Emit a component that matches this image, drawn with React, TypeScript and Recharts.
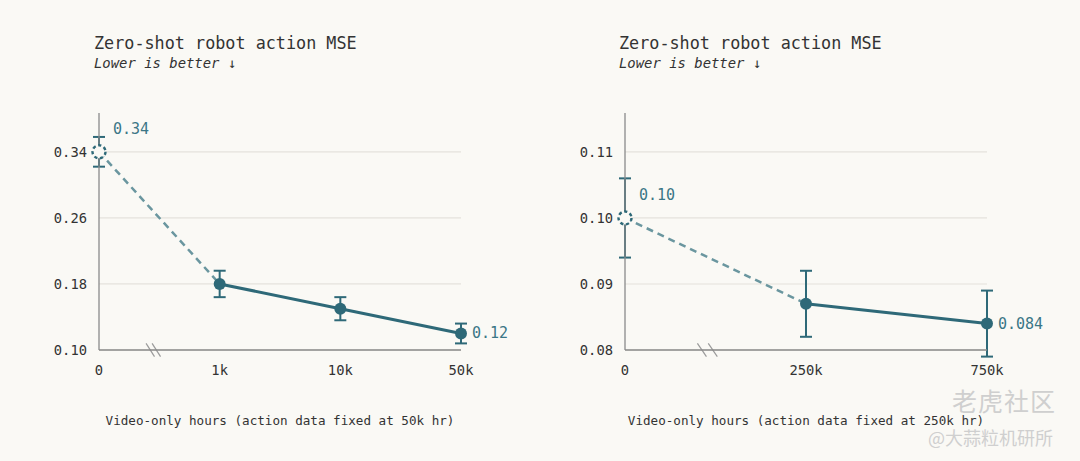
import React from 'react';
import {
  LineChart,
  Line,
  XAxis,
  YAxis,
  CartesianGrid,
  ErrorBar,
  LabelList,
  ReferenceLine,
} from 'recharts';

const LEFT_X_LABELS = ['0', '1k', '10k', '50k'];
const LEFT_MSE = [0.34, 0.18, 0.15, 0.12];
const LEFT_ERR = [0.018, 0.016, 0.014, 0.012];
const LEFT_VALUE_LABELS = ['0.34', '', '', '0.12'];
const LEFT_Y_TICKS = [0.1, 0.18, 0.26, 0.34];

const RIGHT_X_LABELS = ['0', '250k', '750k'];
const RIGHT_MSE = [0.1, 0.087, 0.084];
const RIGHT_ERR = [0.006, 0.005, 0.005];
const RIGHT_VALUE_LABELS = ['0.10', '', '0.084'];
const RIGHT_Y_TICKS = [0.08, 0.09, 0.1, 0.11];

const BG = '#faf9f5';
const TEAL = '#2e6978';
const TEAL_LIGHT = '#6a969f';
const LABEL_TEAL = '#3b7686';
const TEXT = '#333333';
const AXIS = '#8a8a8a';
const GRID = '#e4e2dc';
const MONO = '"DejaVu Sans Mono", "Liberation Mono", monospace';

const Y_AXIS_W = 50;
const X_AXIS_H = 30;

function buildRows(mse: number[], err: number[], labels: string[]) {
  return mse.map((v, i) => ({
    x: i,
    all: v,
    err: err[i],
    dashed: i <= 1 ? v : null,
    solid: i >= 1 ? v : null,
    label: labels[i],
  }));
}

function ValueLabel(props: any) {
  const { x, y, value, index } = props;
  if (!value) return null;
  const up = index === 0;
  return (
    <text
      x={x + (up ? 14 : 11)}
      y={y + (up ? -18 : 5)}
      fill={LABEL_TEAL}
      fontSize={15}
      fontFamily={MONO}
      textAnchor="start"
    >
      {value}
    </text>
  );
}

function OpenDot(props: any) {
  const { cx, cy, index } = props;
  if (index !== 0) return <g key={`d-${index}`} />;
  return (
    <circle
      key={`d-${index}`}
      cx={cx}
      cy={cy}
      r={6.5}
      fill={BG}
      stroke={TEAL}
      strokeWidth={2.4}
      strokeDasharray="3.2 2.6"
    />
  );
}

function MsePanel({
  left,
  titleLeft,
  plotLeft,
  plotRight,
  xLabels,
  mse,
  err,
  valueLabels,
  yTicks,
  yDomain,
  breakX,
  breakW,
  breakH,
  xTitle,
}: {
  left: number;
  titleLeft: number;
  plotLeft: number;
  plotRight: number;
  xLabels: string[];
  mse: number[];
  err: number[];
  valueLabels: string[];
  yTicks: number[];
  yDomain: [number, number];
  breakX: number[];
  breakW: number;
  breakH: number;
  xTitle: string;
}) {
  const rows = buildRows(mse, err, valueLabels);
  const last = xLabels.length - 1;
  const yBase = yDomain[0];
  const plotCenter = (plotLeft + plotRight) / 2;
  return (
    <div style={{ position: 'absolute', left, top: 0, width: 540, height: 461 }}>
      <div
        style={{
          position: 'absolute',
          left: titleLeft,
          top: 33,
          fontFamily: MONO,
          fontSize: 16.8,
          color: TEXT,
          whiteSpace: 'nowrap',
        }}
      >
        Zero-shot robot action MSE
      </div>
      <div
        style={{
          position: 'absolute',
          left: titleLeft,
          top: 55,
          fontFamily: MONO,
          fontSize: 13.9,
          fontStyle: 'italic',
          color: TEXT,
          whiteSpace: 'nowrap',
        }}
      >
        Lower is better ↓
      </div>
      <div
        style={{
          position: 'absolute',
          left: plotCenter - 250,
          width: 500,
          top: 413,
          textAlign: 'center',
          fontFamily: MONO,
          fontSize: 12.6,
          color: TEXT,
          whiteSpace: 'nowrap',
        }}
      >
        {xTitle}
      </div>
      <LineChart
        width={540}
        height={461}
        data={rows}
        margin={{
          top: 113,
          right: 540 - plotRight,
          bottom: 111 - X_AXIS_H,
          left: plotLeft - Y_AXIS_W,
        }}
        style={{ position: 'absolute', left: 0, top: 0, overflow: 'visible' }}
      >
        <CartesianGrid
          vertical={false}
          horizontalValues={yTicks}
          stroke={GRID}
          strokeWidth={1.2}
        />
        <XAxis
          dataKey="x"
          type="number"
          domain={[0, last]}
          ticks={xLabels.map((_, i) => i)}
          tickFormatter={(v: number) => xLabels[v]}
          height={X_AXIS_H}
          tickLine={false}
          tickSize={0}
          tickMargin={15}
          axisLine={{ stroke: AXIS, strokeWidth: 1.3 }}
          tick={{ fill: TEXT, fontSize: 13.8, fontFamily: MONO }}
          interval={0}
        />
        <YAxis
          type="number"
          domain={yDomain}
          ticks={yTicks}
          tickFormatter={(v: number) => v.toFixed(2)}
          width={Y_AXIS_W}
          tickLine={false}
          tickSize={0}
          tickMargin={12}
          axisLine={{ stroke: AXIS, strokeWidth: 1.3 }}
          tick={{ fill: TEXT, fontSize: 13.8, fontFamily: MONO }}
          allowDataOverflow
        />
        {breakX.map((bx, i) => (
          <ReferenceLine
            key={`b-${i}`}
            segment={[
              { x: bx, y: yBase + breakH },
              { x: bx + breakW, y: yBase - breakH },
            ]}
            stroke="#9a9a9a"
            strokeWidth={1.2}
            ifOverflow="visible"
          />
        ))}
        <Line
          dataKey="all"
          stroke="none"
          dot={false}
          activeDot={false}
          isAnimationActive={false}
        >
          <ErrorBar dataKey="err" direction="y" stroke={TEAL} strokeWidth={2} width={6} />
          <LabelList dataKey="label" content={ValueLabel} />
        </Line>
        <Line
          dataKey="dashed"
          stroke={TEAL_LIGHT}
          strokeWidth={2.5}
          strokeDasharray="7 5"
          dot={OpenDot}
          activeDot={false}
          connectNulls={false}
          isAnimationActive={false}
        />
        <Line
          dataKey="solid"
          stroke={TEAL}
          strokeWidth={3}
          dot={{ r: 6, fill: TEAL, stroke: 'none' }}
          activeDot={false}
          isAnimationActive={false}
        />
      </LineChart>
    </div>
  );
}

export default function App() {
  return (
    <div
      style={{
        position: 'fixed',
        left: 0,
        top: 0,
        width: 1080,
        height: 461,
        background: BG,
        overflow: 'hidden',
      }}
    >
      <MsePanel
        left={0}
        titleLeft={94}
        plotLeft={99}
        plotRight={461}
        xLabels={LEFT_X_LABELS}
        mse={LEFT_MSE}
        err={LEFT_ERR}
        valueLabels={LEFT_VALUE_LABELS}
        yTicks={LEFT_Y_TICKS}
        yDomain={[0.1, 0.387]}
        breakX={[0.39, 0.44]}
        breakW={0.07}
        breakH={0.008}
        xTitle="Video-only hours (action data fixed at 50k hr)"
      />
      <MsePanel
        left={540}
        titleLeft={79}
        plotLeft={85}
        plotRight={447}
        xLabels={RIGHT_X_LABELS}
        mse={RIGHT_MSE}
        err={RIGHT_ERR}
        valueLabels={RIGHT_VALUE_LABELS}
        yTicks={RIGHT_Y_TICKS}
        yDomain={[0.08, 0.1159]}
        breakX={[0.4, 0.46]}
        breakW={0.05}
        breakH={0.001}
        xTitle="Video-only hours (action data fixed at 250k hr)"
      />
      <div
        style={{
          position: 'absolute',
          left: 952,
          top: 382,
          fontFamily: '"Noto Sans CJK SC", sans-serif',
          fontSize: 25,
          color: '#cfcfcf',
          letterSpacing: 1,
          whiteSpace: 'nowrap',
        }}
      >
        老虎社区
      </div>
      <div
        style={{
          position: 'absolute',
          left: 928,
          top: 424,
          fontFamily: '"Noto Sans CJK SC", sans-serif',
          fontSize: 18,
          color: '#cfcfcf',
          whiteSpace: 'nowrap',
        }}
      >
        @大蒜粒机研所
      </div>
    </div>
  );
}
